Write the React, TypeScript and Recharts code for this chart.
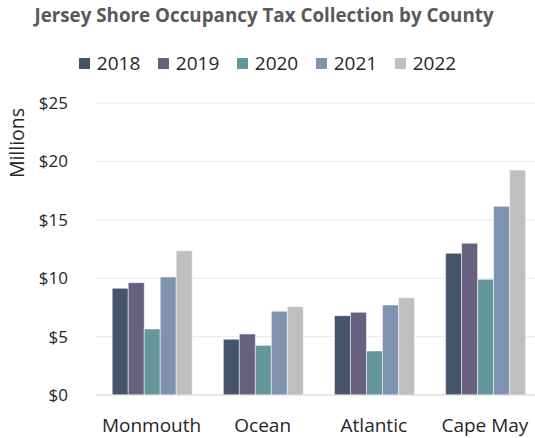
import React from 'react';
import { BarChart, Bar, XAxis, YAxis, CartesianGrid } from 'recharts';

const counties = ['Monmouth', 'Ocean', 'Atlantic', 'Cape May'];
const years = ['2018', '2019', '2020', '2021', '2022'];
const v2018 = [9.13, 4.77, 6.79, 12.13];
const v2019 = [9.62, 5.22, 7.08, 12.99];
const v2020 = [5.65, 4.25, 3.77, 9.9];
const v2021 = [10.1, 7.17, 7.71, 16.15];
const v2022 = [12.35, 7.56, 8.33, 19.26];
const yTicks = [0, 5, 10, 15, 20, 25];
const colors = ['#44546A', '#67607F', '#64979A', '#7F92B0', '#BFBFBF'];

const seriesValues = [v2018, v2019, v2020, v2021, v2022];
const data = counties.map((c, i) => {
  const row: Record<string, any> = { county: c };
  years.forEach((y, k) => { row[y] = seriesValues[k][i]; });
  return row;
});

const FONT = '"Open Sans", sans-serif';

export default function App() {
  return (
    <div style={{ position: 'absolute', left: 0, top: 0, width: 535, height: 438, overflow: 'hidden', background: '#fff', fontFamily: FONT }}>
      <div style={{ position: 'absolute', top: 2, left: 0, width: 528, textAlign: 'center', fontWeight: 700, fontSize: 18.8, color: '#595959', fontFamily: FONT, whiteSpace: 'nowrap' }}>
        Jersey Shore Occupancy Tax Collection by County
      </div>
      <div style={{ position: 'absolute', top: 50, left: 0, width: 535, height: 26, display: 'flex', justifyContent: 'center', alignItems: 'center', fontFamily: FONT, fontSize: 19, color: '#262626' }}>
        {years.map((y, k) => (
          <div key={y} style={{ display: 'flex', alignItems: 'center', marginRight: k < years.length - 1 ? 17.5 : 0 }}>
            <span style={{ width: 11, height: 11, background: colors[k], display: 'inline-block', marginRight: 7 }} />
            <span style={{ lineHeight: '26px' }}>{y}</span>
          </div>
        ))}
      </div>
      <div style={{ position: 'absolute', left: 0, top: 0 }}>
        <BarChart
          width={545}
          height={438}
          data={data}
          margin={{ top: 103, right: 4.5, bottom: 0, left: 0 }}
          barCategoryGap="14.6%"
          barGap={0}
        >
          <CartesianGrid vertical={false} stroke="#EBEBEB" strokeWidth={1} />
          <XAxis
            dataKey="county"
            height={43}
            axisLine={{ stroke: '#D9D9D9' }}
            tickLine={false}
            tickSize={0}
            tickMargin={24}
            tick={{ fill: '#262626', fontSize: 19, fontFamily: FONT }}
            interval={0}
          />
          <YAxis
            width={96}
            domain={[0, 25]}
            ticks={yTicks}
            tickFormatter={(v: number) => `$${v}`}
            axisLine={false}
            tickLine={false}
            tickSize={0}
            tickMargin={28}
            tick={{ fill: '#262626', fontSize: 17, fontFamily: FONT }}
            label={{ value: 'Millions', angle: -90, position: 'insideLeft', dx: 12, dy: -106, style: { fill: '#262626', fontSize: 19.5, fontFamily: FONT, textAnchor: 'middle' } }}
          />
          {years.map((y, k) => (
            <Bar key={y} dataKey={y} fill={colors[k]} stroke="#ffffff" strokeWidth={0.5} isAnimationActive={false} />
          ))}
        </BarChart>
      </div>
    </div>
  );
}
